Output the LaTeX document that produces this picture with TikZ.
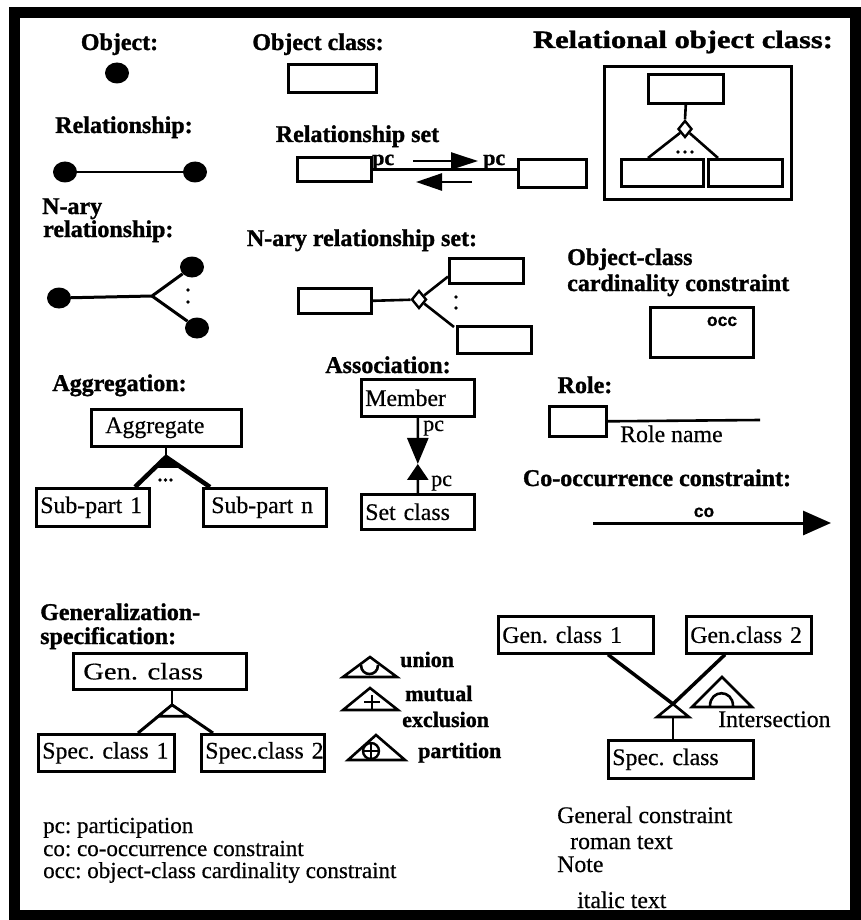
\documentclass[tikz,border=0pt]{standalone}
\usepackage{fontspec}
\usepackage{graphicx}
\setmainfont{Liberation Serif}[BoldFeatures={FakeBold=1.2}]
\newfontfamily\heavyf{Liberation Serif}[FakeBold=0.5]
\newfontfamily\sansf{Liberation Sans}[BoldFeatures={FakeBold=0.8}]
\usetikzlibrary{shapes.geometric,arrows.meta,calc}
\newcommand\hfnt{\fontsize{24}{28}\selectfont\bfseries}
\newcommand\bfnt{\heavyf\fontsize{23.8}{28}\selectfont}
\newcommand\lfnt{\heavyf\fontsize{23}{26}\selectfont}
\newcommand\cfnt{\fontsize{22}{26}\selectfont\bfseries}
\newcommand\sfnt{\sansf\fontsize{17.5}{20}\selectfont\bfseries}
\frenchspacing
\begin{document}
\begin{tikzpicture}[x=1pt,y=-1pt,
  box/.style={draw, line width=2.6pt, inner sep=0pt, anchor=north west},
  tbox/.style={box, font=\bfnt, align=left, inner xsep=4pt},
  head/.style={inner sep=0pt, font=\hfnt, anchor=base},
  headl/.style={head, anchor=base west},
  txt/.style={inner sep=0pt, font=\lfnt, anchor=base west},
  rtxt/.style={inner sep=0pt, font=\bfnt, anchor=base west},
  ctxt/.style={inner sep=0pt, font=\cfnt, anchor=base west},
  pcb/.style={inner sep=0pt, font=\fontsize{22}{24}\selectfont\bfseries, anchor=base west},
  pcr/.style={inner sep=0pt, font=\heavyf\fontsize{22}{24}\selectfont, anchor=base west},
  sbold/.style={inner sep=0pt, font=\sfnt, anchor=base},
  obj/.style={ellipse, fill=black, inner sep=0pt, minimum width=24pt, minimum height=21pt},
  dotm/.style={circle, fill=black, inner sep=0pt, minimum size=3.6pt},
  dia/.style={diamond, draw, line width=2.4pt, fill=white, inner sep=0pt},
  conn/.style={line width=2.6pt},
  leg/.style={line width=4.5pt, line join=round},
  tri/.style={draw, line width=2.6pt, fill=white, line join=miter}
]
\useasboundingbox (0,0) rectangle (860,920);
\draw[line width=11pt] (14.5,12.5) rectangle (855,915.5);

% Object
\node[head] (hobj) at (119.5,50) {Object:};
\node[obj] (obj) at (117,73) {};

% Object class
\node[head] (hoc) at (318,50) {Object class:};
\node[box, minimum width=88, minimum height=28] (oc) at (287,63) {};

% Relational object class
\node[head] (hroc) at (683,48) {\fontsize{25}{28}\selectfont\scalebox{1.22}[1]{Relational object class:}};
\node[box, minimum width=187, minimum height=133] (roc) at (603,65) {};
\node[box, minimum width=75, minimum height=29] (roct) at (647,73) {};
\node[dia, minimum width=14, minimum height=17] (rocd) at (685,129) {};
\node[box, minimum width=82, minimum height=27] (rocl) at (620,158) {};
\node[box, minimum width=74, minimum height=27] (rocr) at (707,158) {};
\draw[conn] (roct.south) -- (rocd.north);
\draw[conn] (rocd) -- ($(rocl.north west)+(28,0)$);
\draw[conn] (rocd) -- ($(rocr.north west)+(11,0)$);
\node[dotm] (rd1) at (678,152) {};
\node[dotm] (rd2) at (685,152) {};
\node[dotm] (rd3) at (692,152) {};

% Relationship
\node[head] (hrel) at (124,133) {Relationship:};
\node[obj] (r1) at (65,172) {};
\node[obj] (r2) at (195,172) {};
\draw[conn] (r1) -- (r2);

% Relationship set
\node[head] (hrs) at (357.5,142) {Relationship set};
\node[box, minimum width=74, minimum height=24] (rs1) at (296,156) {};
\node[box, minimum width=68, minimum height=28] (rs2) at (517,158) {};
\draw[conn] (rs1.east) -- (rs1.east -| rs2.west);
\node[pcb] (pc1) at (372,165) {pc};
\node[pcb] (pc2) at (483,165) {pc};
\coordinate (a1s) at (413,161);
\coordinate (a1e) at (478,161);
\draw[conn, -{Triangle[length=27pt,width=17pt]}] (a1s) -- (a1e);
\coordinate (a2s) at (472,182);
\coordinate (a2e) at (416,182);
\draw[conn, -{Triangle[length=26pt,width=17pt]}] (a2s) -- (a2e);

% N-ary relationship
\node[headl] (hnr1) at (42,214) {N-ary};
\node[headl] (hnr2) at (43,237) {relationship:};
\node[obj] (n0) at (59,298) {};
\node[obj] (n1) at (192,267) {};
\node[obj] (n2) at (197,328) {};
\coordinate (nb) at (152,296);
\draw[conn, line width=3pt] (n0) -- (nb) -- (n1);
\draw[conn, line width=3pt] (nb) -- (n2);
\node[dotm] (nd1) at (188,290) {};
\node[dotm] (nd2) at (188,302) {};

% N-ary relationship set
\node[head] (hnrs) at (362,246) {N-ary relationship set:};
\node[box, minimum width=73, minimum height=25] (ns0) at (297,287) {};
\node[box, minimum width=74, minimum height=25] (ns1) at (448,257) {};
\node[box, minimum width=74, minimum height=27] (ns2) at (456,325) {};
\node[dia, minimum width=15, minimum height=18] (nsd) at (419,299.5) {};
\draw[conn] (ns0.east) -- (nsd);
\draw[conn] (nsd) -- ($(ns1.south west)+(0,-8)$);
\draw[conn] (nsd) -- ($(ns2.north west)+(-2,2)$);
\node[dotm] (nsd1) at (456,297) {};
\node[dotm] (nsd2) at (456,308) {};

% Object-class cardinality constraint
\node[headl] (hocc1) at (567,265) {Object-class};
\node[headl] (hocc2) at (567,291) {cardinality constraint};
\node[box, minimum width=103, minimum height=50] (occb) at (649,306) {};
\node[sbold] (occt) at (722,326) {occ};

% Aggregation
\node[head] (hagg) at (119.5,391) {Aggregation:};
\node[tbox, text width=142, minimum height=37] (agg) at (90,408) {\mbox{\hspace*{10pt}Aggregate}};
\node[tbox, text width=105, minimum height=38] (sp1) at (35,487) {\mbox{Sub-part 1}};
\node[tbox, text width=115, minimum height=38] (spn) at (202,487) {\mbox{\hspace*{4pt}Sub-part n}};
\coordinate (agA) at (166,457);
\coordinate (agL) at ($(sp1.north west)+(100,0)$);
\coordinate (agR) at ($(spn.north west)+(8,0)$);
\draw[conn] (agA |- agg.south) -- (agA);
\draw[leg] (agL) -- (agA) -- (agR);
\fill[line join=round] (agA) -- ($(agA)!0.36!(agL)$) -- ($(agA)!0.36!(agR)$) -- cycle;
\node[dotm] (ad1) at (160,480) {};
\node[dotm] (ad2) at (165.5,480) {};
\node[dotm] (ad3) at (171,480) {};

% Association
\node[head] (hass) at (388,373) {Association:};
\node[tbox, text width=105, minimum height=37] (mem) at (360,378) {\mbox{Member}};
\node[tbox, text width=105, minimum height=35] (setc) at (360,493) {\mbox{Set class}};
\coordinate (amid) at ($(mem.south)!0.615!(setc.north)$);
\draw[conn, -{Triangle[length=26pt,width=21pt]}] (mem.south) -- (amid);
\draw[conn, -{Triangle[length=16pt,width=21pt]}] (setc.north) -- (amid);
\node[pcr] (apc1) at (423,431) {pc};
\node[pcr] (apc2) at (431,486) {pc};

% Role
\node[head] (hrole) at (585,393) {Role:};
\node[box, minimum width=57, minimum height=30] (role) at (548,405) {};
\coordinate (roleE) at (760,420);
\draw[conn] (role.east) -- (roleE);
\node[rtxt] (rolen) at (620,442) {Role name};

% Co-occurrence constraint
\node[head] (hco) at (657,486) {Co-occurrence constraint:};
\coordinate (coS) at (593,523);
\coordinate (coE) at (831,523);
\draw[conn, line width=3pt, -{Triangle[length=28pt,width=24pt]}] (coS) -- (coE);
\node[sbold] (cot) at (704,517) {co};

% Generalization-specification
\node[headl] (hgen1) at (40,620) {Generalization-};
\node[headl] (hgen2) at (40,644) {specification:};
\node[tbox, text width=165, minimum height=36] (gc) at (72,652) {\mbox{\hspace*{6pt}\scalebox{1.2}[1]{Gen. class}}};
\node[tbox, text width=128, minimum height=37] (sc1) at (37,733) {\mbox{Spec. class 1}};
\node[tbox, text width=115, minimum height=37] (sc2) at (200,733) {\mbox{Spec.class 2}};
\coordinate (gA) at (172,705);
\coordinate (gL) at ($(sc1.north west)+(101,0)$);
\coordinate (gR) at ($(sc2.north west)+(13,0)$);
\draw[conn] (gA |- gc.south) -- (gA);
\draw[conn, line width=3pt] (gL) -- (gA) -- (gR);
\draw[tri] (gA) -- ($(gA)!0.4!(gL)$) -- ($(gA)!0.4!(gR)$) -- cycle;

% constraint symbols
\draw[tri] (370,657) -- (343,677) -- (397,677) -- cycle;
\draw[conn] (361,665) .. controls (361,677) and (378,677) .. (378,665);
\node[ctxt] (tun) at (400,667) {union};

\draw[tri] (370,688) -- (343,710) -- (398,710) -- cycle;
\draw[conn] (364,702) -- (380,702);
\draw[conn] (372,695) -- (372,710);
\node[ctxt] (tmu) at (405,701) {mutual};
\node[ctxt] (tex) at (402,727) {exclusion};

\draw[tri] (376,735) -- (348,760) -- (405,760) -- cycle;
\draw[line width=2.4pt] (371,751) circle (8);
\draw[line width=2.2pt] (364,751) -- (378,751);
\draw[line width=2.2pt] (371,743) -- (371,759);
\node[ctxt] (tpa) at (418,758) {partition};

% Right generalization (intersection)
\node[tbox, text width=147, minimum height=37] (g1) at (497,615) {\mbox{Gen. class 1}};
\node[tbox, text width=117, minimum height=37] (g2) at (685,615) {\mbox{Gen.class 2}};
\node[tbox, text width=137, minimum height=38] (sc) at (607,739) {\mbox{Spec. class}};
\coordinate (rA) at (673,704);
\coordinate (g1b) at ($(g1.south west)+(111,0)$);
\coordinate (g2b) at ($(g2.south west)+(40,0)$);
\coordinate (rTL) at (657,717);
\coordinate (rTR) at (689,717);
\coordinate (rB) at (673,717);
\draw[conn, line width=3.5pt] (g1b) -- (rA);
\draw[conn, line width=3.5pt] (g2b) -- (rA);
\draw[tri] (rA) -- (rTL) -- (rTR) -- cycle;
\draw[conn] (rB) -- (rB |- sc.north);
\draw[tri] (722,677) -- (692,707) -- (752,707) -- cycle;
\draw[conn] (710,706) .. controls (710,689) and (733,689) .. (733,706);
\node[rtxt] (tint) at (718,727) {Intersection};

% Legend
\node[txt] (l1) at (43,833) {pc: participation};
\node[txt] (l2) at (43,856) {co: co-occurrence constraint};
\node[txt] (l3) at (43,878) {occ: object-class cardinality constraint};

\node[rtxt] (gcn) at (557,823) {General constraint};
\node[rtxt] (rmt) at (570,849) {roman text};
\node[rtxt] (nte) at (557,872) {Note};
\node[rtxt] (itt) at (577,908) {italic text};
\end{tikzpicture}
\end{document}
